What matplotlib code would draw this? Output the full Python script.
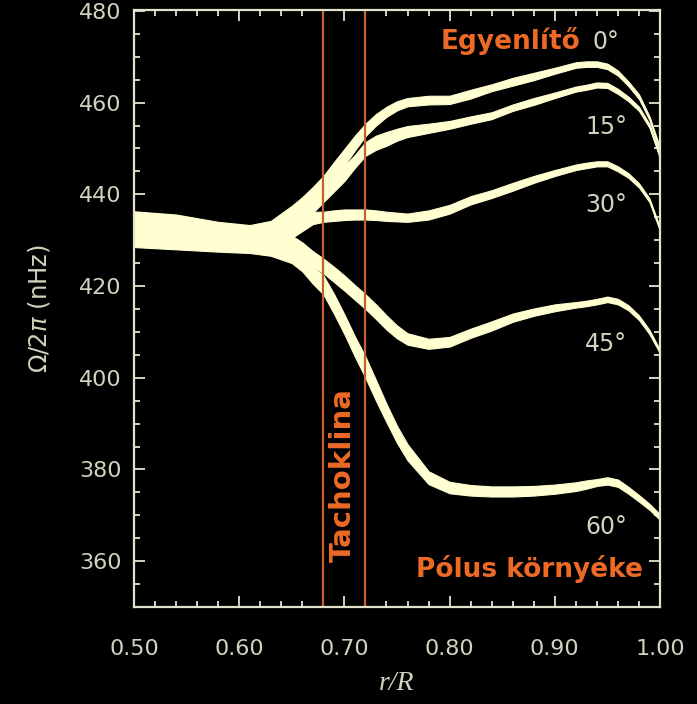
import matplotlib
matplotlib.use("Agg")
import matplotlib.pyplot as plt
from matplotlib.ticker import MultipleLocator, FormatStrFormatter

# Fractional radius r/R at which the rotation rate is tabulated
radius = [0.50, 0.54, 0.58, 0.61, 0.63, 0.65, 0.66, 0.67, 0.68, 0.69,
          0.70, 0.71, 0.72, 0.73, 0.74, 0.75, 0.76, 0.78, 0.80, 0.82,
          0.84, 0.86, 0.88, 0.90, 0.92, 0.93, 0.94, 0.95, 0.96, 0.97,
          0.98, 0.99, 1.00]

# Lower / upper bounds of Omega/2pi (nHz) for each latitude
lat00_lo = [430.5, 430.2, 429.8, 429.5, 430.0, 432.0, 434.3, 436.8, 439.7, 443.0,
            446.3, 449.6, 452.7, 455.0, 456.9, 458.3, 459.2, 459.6, 459.7, 460.9,
            462.5, 463.7, 464.9, 466.3, 467.6, 467.8, 467.8, 467.3, 465.9, 463.6,
            460.8, 456.2, 449.2]
lat00_hi = [436.3, 435.6, 434.0, 433.3, 434.2, 437.5, 439.4, 441.6, 444.0, 447.0,
            449.9, 452.8, 455.4, 457.5, 459.1, 460.3, 461.0, 461.5, 461.5, 462.8,
            464.0, 465.4, 466.5, 467.6, 468.8, 469.0, 469.0, 468.5, 467.0, 464.6,
            461.8, 457.0, 450.2]

lat15_lo = [430.0, 429.8, 429.4, 429.2, 429.5, 431.5, 433.5, 436.0, 438.3, 440.6,
            442.9, 445.8, 448.4, 449.7, 450.6, 451.7, 452.5, 453.4, 454.3, 455.4,
            456.4, 458.2, 459.5, 461.0, 462.4, 462.8, 463.3, 463.2, 461.9, 460.3,
            458.2, 454.5, 447.8]
lat15_hi = [435.8, 435.2, 433.7, 433.0, 433.8, 436.5, 438.0, 440.0, 442.0, 444.2,
            446.2, 448.6, 451.4, 452.8, 453.6, 454.3, 454.9, 455.4, 456.0, 457.0,
            457.9, 459.6, 461.0, 462.2, 463.5, 463.9, 464.4, 464.3, 463.0, 461.3,
            459.1, 455.3, 448.8]

lat30_lo = [429.5, 429.2, 428.8, 428.5, 428.5, 430.5, 432.0, 433.5, 434.0, 434.2,
            434.4, 434.5, 434.5, 434.4, 434.2, 434.1, 434.0, 434.5, 435.8, 437.8,
            439.2, 440.8, 442.5, 444.0, 445.3, 445.7, 446.1, 446.1, 445.0, 443.6,
            441.5, 438.3, 432.0]
lat30_hi = [435.0, 434.5, 433.2, 432.6, 433.0, 435.5, 436.0, 436.2, 436.2, 436.5,
            436.7, 436.7, 436.7, 436.5, 436.2, 436.0, 435.8, 436.5, 437.7, 439.6,
            440.9, 442.5, 444.0, 445.3, 446.5, 446.9, 447.2, 447.2, 446.1, 444.6,
            442.4, 439.1, 432.8]

lat45_lo = [428.8, 428.5, 428.0, 427.6, 427.3, 425.5, 424.8, 424.3, 422.8, 420.9,
            419.0, 417.0, 415.0, 412.8, 410.5, 408.6, 407.2, 406.3, 406.8, 408.7,
            410.3, 412.2, 413.5, 414.5, 415.3, 415.6, 416.0, 416.5, 416.0, 414.7,
            412.6, 409.5, 405.3]
lat45_hi = [434.0, 433.5, 432.5, 432.0, 432.0, 431.0, 429.5, 427.6, 426.0, 424.2,
            422.3, 420.2, 418.2, 416.0, 413.6, 411.4, 409.7, 408.5, 408.9, 410.7,
            412.3, 414.0, 415.1, 416.0, 416.5, 416.8, 417.2, 417.7, 417.2, 415.8,
            413.6, 410.4, 406.1]

lat60_lo = [428.5, 428.0, 427.5, 427.2, 426.6, 425.0, 423.2, 420.5, 418.2, 414.0,
            409.5, 404.6, 400.0, 395.0, 390.3, 385.8, 382.0, 376.8, 374.8, 374.3,
            374.1, 374.1, 374.3, 374.7, 375.3, 375.8, 376.4, 376.7, 376.2, 374.7,
            373.0, 371.2, 369.0]
lat60_hi = [433.5, 433.0, 432.0, 431.5, 431.3, 430.0, 427.8, 424.2, 422.3, 418.3,
            413.8, 409.0, 404.6, 399.5, 394.3, 389.5, 385.5, 379.6, 377.3, 376.6,
            376.3, 376.3, 376.4, 376.7, 377.2, 377.6, 377.9, 378.3, 377.8, 376.2,
            374.4, 372.5, 370.2]

latitude_labels = ["0°", "15°", "30°", "45°", "60°"]
tachocline_edges = [0.68, 0.72]

BAND = "#FFFFD2"
FRAME = "#E2E2CC"
LABEL = "#D2D2BE"
ORANGE = "#EC6A26"
LINE_ORANGE = "#C9602C"

fig = plt.figure(figsize=(6.97, 7.04), dpi=100, facecolor="black")
ax = fig.add_axes([134 / 697, 97 / 704, 526 / 697, 597 / 704])
ax.set_facecolor("black")

bands = [(lat00_lo, lat00_hi), (lat15_lo, lat15_hi), (lat30_lo, lat30_hi),
         (lat45_lo, lat45_hi), (lat60_lo, lat60_hi)]
for lo, hi in bands:
    ax.fill_between(radius, lo, hi, facecolor=BAND, edgecolor=BAND,
                    linewidth=0.8, zorder=2)

for xr in tachocline_edges:
    ax.axvline(xr, color=LINE_ORANGE, linewidth=1.6, zorder=3)

ax.set_xlim(0.50, 1.00)
ax.set_ylim(350, 480.2)

ax.xaxis.set_major_locator(MultipleLocator(0.10))
ax.xaxis.set_minor_locator(MultipleLocator(0.02))
ax.xaxis.set_major_formatter(FormatStrFormatter("%.2f"))
ax.yaxis.set_major_locator(MultipleLocator(20))
ax.yaxis.set_minor_locator(MultipleLocator(5))

for side in ax.spines.values():
    side.set_color(FRAME)
    side.set_linewidth(1.6)
    side.set_zorder(5)

ax.tick_params(which="both", direction="in", top=True, right=True,
               color=FRAME, labelcolor=LABEL, width=1.3)
ax.tick_params(which="major", length=8)
ax.tick_params(which="minor", length=4.5)
ax.tick_params(axis="x", which="major", pad=23, labelsize=16)
ax.tick_params(axis="y", which="major", pad=9, labelsize=16)

ax.set_ylabel(r"$\Omega/2\pi$ (nHz)", color=LABEL, fontsize=17.5, labelpad=19)
ax.set_xlabel("r/R", color=LABEL, fontsize=20, family="Liberation Serif",
              style="italic", labelpad=9)

# Orange annotations
ax.text(0.924, 471.7, "Egyenlítő", color=ORANGE, fontsize=19, fontweight="bold",
        ha="right", va="baseline", zorder=4)
ax.text(0.984, 356.6, "Pólus környéke", color=ORANGE, fontsize=19,
        fontweight="bold", ha="right", va="baseline", zorder=4)
ax.text(0.6987, 378.8, "Tachoklina", color=ORANGE, fontsize=21, fontweight="bold",
        rotation=90, ha="center", va="center", zorder=4)

# Latitude labels
lat_label_pos = [(0.936, 471.7, "left"), (0.969, 453.2, "right"),
                 (0.969, 436.2, "right"), (0.969, 405.8, "right"),
                 (0.969, 365.9, "right")]
for (xr, yv, ha), txt in zip(lat_label_pos, latitude_labels):
    ax.text(xr, yv, txt, color=LABEL, fontsize=17, ha=ha, va="baseline", zorder=4)

fig.savefig("out.png", dpi=100, facecolor="black")
